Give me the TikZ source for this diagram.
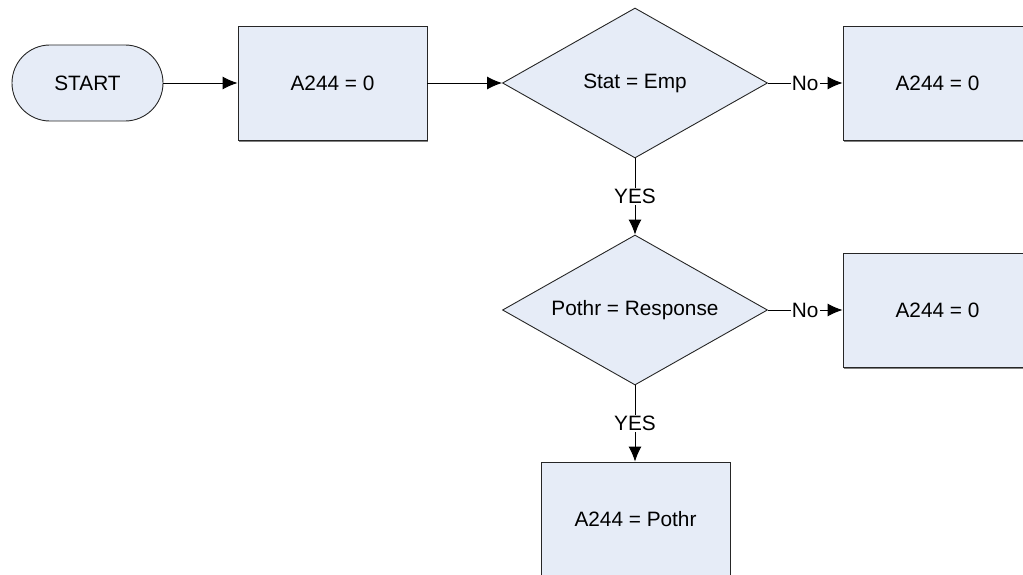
\documentclass[tikz,border=0pt]{standalone}
\usepackage{fontspec}
\setmainfont{Liberation Sans}
\usetikzlibrary{shapes.geometric,arrows.meta,shadows}
\definecolor{boxfill}{RGB}{230,236,247}
\begin{document}
\begin{tikzpicture}[x=1pt,y=-1pt,
  every node/.style={font=\fontsize{20.8}{24}\selectfont, text=black},
  base/.style={draw=black!85, line width=0.9pt, fill=boxfill, inner sep=0pt},
  terminal/.style={base, rectangle, rounded corners=37.9pt, minimum width=151pt, minimum height=76pt},
  procbox/.style={base, rectangle, minimum width=189pt, minimum height=114pt,
    drop shadow={shadow xshift=0.6pt, shadow yshift=-1.6pt, fill=black!50, opacity=1}},
  decision/.style={base, diamond, aspect=1.767, minimum width=265pt, minimum height=150pt},
  conn/.style={draw=black, line width=0.9pt, -{Latex[length=15pt,width=13pt]}},
  lbl/.style={fill=white, inner sep=1pt}
]
\clip (0,0) rectangle (1023,575);
\useasboundingbox (0,0) rectangle (1023,575);

\node[terminal] (start) at (87.5,83) {START};
\node[procbox]  (b1)    at (332.5,83) {A244 = 0};
\node[decision] (d1)    at (635,83) {Stat = Emp};
\node[procbox]  (r1)    at (937.5,83.5) {A244 = 0};
\node[decision] (d2)    at (635,310) {Pothr = Response};
\node[procbox]  (r2)    at (937.5,310) {A244 = 0};
\node[procbox]  (b3)    at (635.5,519) {A244 = Pothr};

\draw[conn] (start.east) -- (b1.west);
\draw[conn] (b1.east) -- (d1.west);
\draw[conn] (d1.east) -- node[lbl] {No} (r1.west |- d1.east);
\draw[conn] (d1.south) -- node[lbl] {YES} (d2.north);
\draw[conn] (d2.east) -- node[lbl] {No} (r2.west);
\draw[conn] (d2.south) -- node[lbl] {YES} (b3.north -| d2.south);
\end{tikzpicture}
\end{document}
